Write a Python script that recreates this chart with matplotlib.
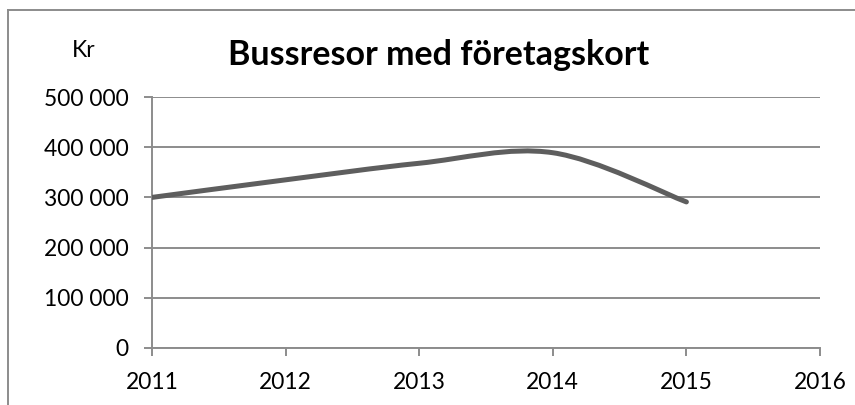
import matplotlib.pyplot as plt
from matplotlib.path import Path
from matplotlib.patches import PathPatch
from matplotlib.lines import Line2D
from matplotlib.ticker import FuncFormatter

plt.rcParams['font.family'] = ['Lato', 'DejaVu Sans']

years = [2011, 2012, 2013, 2014, 2015]
kronor = [300000, 335000, 368000, 389000, 291000]
x_ticks = [2011, 2012, 2013, 2014, 2015, 2016]
y_ticks = [0, 100000, 200000, 300000, 400000, 500000]
title = "Bussresor med företagskort"
unit = "Kr"

grey = '#8c8c8c'
line_col = '#5e5e5e'


def smooth_path(xs, ys):
    # Excel-style smoothed line: cubic bezier through points (catmull-rom handles)
    n = len(xs)
    verts = [(xs[0], ys[0])]
    codes = [Path.MOVETO]
    for i in range(n - 1):
        x0, y0 = xs[max(i - 1, 0)], ys[max(i - 1, 0)]
        x1, y1 = xs[i], ys[i]
        x2, y2 = xs[i + 1], ys[i + 1]
        x3, y3 = xs[min(i + 2, n - 1)], ys[min(i + 2, n - 1)]
        verts += [(x1 + (x2 - x0) / 6, y1 + (y2 - y0) / 6),
                  (x2 - (x3 - x1) / 6, y2 - (y3 - y1) / 6),
                  (x2, y2)]
        codes += [Path.CURVE4] * 3
    return Path(verts, codes)


fig = plt.figure(figsize=(8.55, 4.05), dpi=100)
ax = fig.add_axes([152 / 855, 1 - 348 / 405, 668 / 855, 251 / 405])

ax.add_patch(PathPatch(smooth_path(years, kronor), facecolor='none',
                       edgecolor=line_col, lw=3.6, capstyle='round',
                       joinstyle='round', zorder=3))

ax.set_xlim(2011, 2016)
ax.set_ylim(0, 500000)
ax.set_xticks(x_ticks)
ax.set_yticks(y_ticks)
ax.yaxis.set_major_formatter(FuncFormatter(lambda v, p: f"{int(v):,}".replace(",", " ")))
ax.grid(axis='y', color=grey, lw=1.4)
ax.set_axisbelow(True)

for s in ['top', 'right']:
    ax.spines[s].set_visible(False)
for s in ['left', 'bottom']:
    ax.spines[s].set_color(grey)
    ax.spines[s].set_linewidth(1.4)

ax.tick_params(length=6, width=1.4, color=grey, labelsize=16.4, labelcolor='black')
ax.tick_params(axis='y', pad=11)
ax.tick_params(axis='x', pad=11)

fig.text(439 / 855, 1 - 65 / 405, title, ha='center', va='baseline',
         fontsize=24.5, fontweight='bold')
fig.text(84 / 855, 1 - 57 / 405, unit, ha='center', va='baseline', fontsize=16.5)

# chart area border (cut off at right and bottom)
bx, by = 8 / 855, 1 - 10 / 405
fig.add_artist(Line2D([bx, bx], [0, by], color=grey, lw=1.4))
fig.add_artist(Line2D([bx, 1], [by, by], color=grey, lw=1.4))

fig.savefig('out.png', dpi=100)
